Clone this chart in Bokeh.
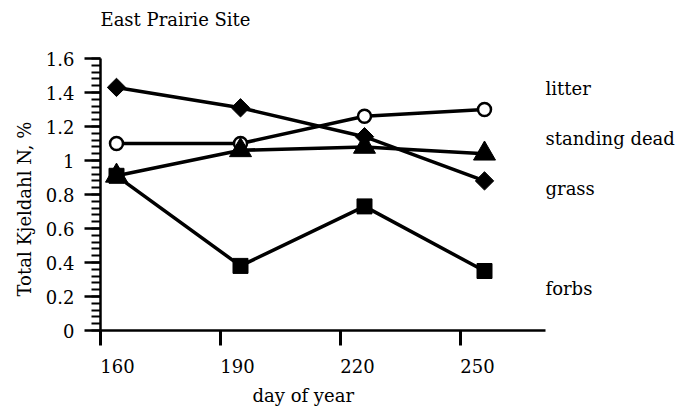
import math
from bokeh.plotting import figure
from bokeh.models import (FixedTicker, Range1d, ColumnDataSource, Title, LinearAxis,
                          CustomLabelingPolicy)
from bokeh.core.properties import value
from bokeh.embed import file_html
from bokeh.resources import INLINE

# ---- data ----
days = [164, 195, 226, 256]
litter = [1.10, 1.10, 1.26, 1.30]
standing_dead = [0.91, 1.06, 1.08, 1.04]
grass = [1.43, 1.31, 1.14, 0.88]
forbs = [0.91, 0.38, 0.73, 0.35]

series_names = ["litter", "standing dead", "grass", "forbs"]
label_y = [1.424, 1.129, 0.835, 0.247]
label_x = [271.25, 271.25, 271.25, 271.25]

x_ticks = [160, 190, 220, 250]
y_ticks = [0, 0.2, 0.4, 0.6, 0.8, 1, 1.2, 1.4, 1.6]
y_tick_labels = ["0", "0.2", "0.4", "0.6", "0.8", "1", "1.2", "1.4", "1.6"]
y_minor = [round(i * 0.04, 2) for i in range(41)]

TITLE = "East Prairie Site"
TITLE_X, TITLE_Y = 160, 1.829
FONT = "DejaVu Serif"
X_START, X_END = 160, 310
Y_TOP = 330 / 170          # frame reaches the top of the canvas, same scale
LABEL_SHIFT = 4.25         # tick labels in the reference sit right of their ticks

p = figure(width=700, height=413, output_backend="svg", toolbar_location=None,
           x_range=Range1d(X_START, X_END), y_range=Range1d(0, Y_TOP),
           min_border_left=100, min_border_right=0, min_border_top=0,
           min_border_bottom=83, title=None)
p.extra_x_ranges = {"lbl": Range1d(X_START - LABEL_SHIFT, X_END - LABEL_SHIFT)}
p.outline_line_color = None
p.xgrid.visible = False
p.ygrid.visible = False
p.background_fill_color = "white"
p.border_fill_color = "white"

# x axis (line + ticks only, its own labels suppressed)
xa = p.xaxis[0]
xa.ticker = FixedTicker(ticks=x_ticks, minor_ticks=[])
xa.bounds = (160, 271.25)
xa.axis_line_width = 2.5
xa.major_tick_line_width = 3
xa.major_tick_out = 15
xa.major_tick_in = 0
xa.minor_tick_out = 0
xa.major_label_standoff = 0
xa.major_label_policy = CustomLabelingPolicy(
    code="for (const i of indices) { indices.unset(i) }\nreturn indices")

# x tick labels
lab_axis = LinearAxis(x_range_name="lbl",
                      ticker=FixedTicker(ticks=x_ticks, minor_ticks=[]),
                      axis_line_color=None, major_tick_line_color=None,
                      minor_tick_line_color=None, major_tick_out=0,
                      major_tick_in=0, minor_tick_out=0, minor_tick_in=0,
                      major_label_text_font=FONT,
                      major_label_text_font_size="18px",
                      major_label_text_color="black",
                      major_label_standoff=2)
p.add_layout(lab_axis, "below")

# y axis
ya = p.yaxis[0]
ya.ticker = FixedTicker(ticks=y_ticks, minor_ticks=y_minor)
ya.bounds = (0, 1.6)
ya.major_label_overrides = {t: l for t, l in zip(y_ticks, y_tick_labels)}
ya.axis_line_width = 2.5
ya.major_tick_line_width = 2.5
ya.minor_tick_line_width = 2
ya.major_tick_out = 16
ya.major_tick_in = 0
ya.minor_tick_out = 9
ya.minor_tick_in = 0
ya.major_label_text_font = FONT
ya.major_label_text_font_size = "18px"
ya.major_label_text_color = "black"
ya.major_label_standoff = 10

# y axis title
p.add_layout(Title(text="Total Kjeldahl N, %", align="left", offset=34,
                   text_font=FONT, text_font_size="18px",
                   text_font_style="normal", text_color="black",
                   standoff=16), "left")

# x axis title
p.add_layout(Title(text="day of year", align="left", offset=152,
                   text_font=FONT, text_font_size="18px",
                   text_font_style="normal", text_color="black",
                   standoff=15), "below")

# chart title
p.text(x=[TITLE_X], y=[TITLE_Y], text=[TITLE], text_font=value(FONT),
       text_font_size="18px", text_align="left", text_baseline="middle",
       text_color="black")

# lines
for ys in [litter, standing_dead, grass, forbs]:
    p.line(days, ys, line_color="black", line_width=3.5)

# markers
p.scatter(days, litter, marker="circle", size=13, fill_color="white",
          line_color="black", line_width=2.5)
p.scatter(days, standing_dead, marker="triangle", size=22, fill_color="black",
          line_color="black")
p.scatter(days, grass, marker="square", size=13, angle=math.pi / 4,
          fill_color="black", line_color="black")
p.scatter(days, forbs, marker="square", size=15, fill_color="black",
          line_color="black")

# series labels
src = ColumnDataSource(dict(x=label_x, y=label_y, t=series_names))
p.text(x="x", y="y", text="t", source=src, text_font=value(FONT),
       text_font_size="18px", text_align="left", text_baseline="middle",
       text_color="black")

open("out.html", "w").write(file_html(p, INLINE))
